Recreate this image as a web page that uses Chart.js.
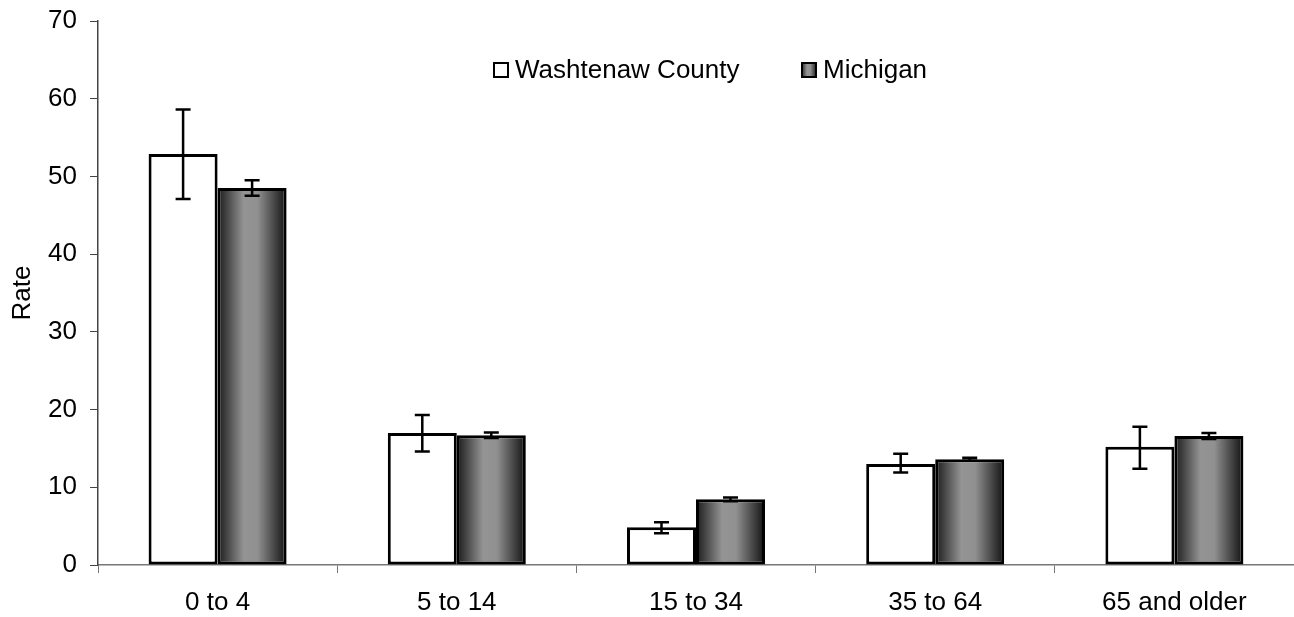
<!DOCTYPE html>
<html>
<head>
<meta charset="utf-8">
<script src="https://cdn.jsdelivr.net/npm/chart.js@4/dist/chart.umd.min.js"></script>
<style>
  html, body { margin: 0; padding: 0; background: #fff; }
  #wrap { width: 1294px; height: 617px; }
</style>
</head>
<body>
<div id="wrap"><canvas id="c" width="1294" height="617"></canvas></div>
<script>
const categories = ['0 to 4', '5 to 14', '15 to 34', '35 to 64', '65 and older'];
const washtenaw = [52.9, 17.0, 4.85, 13.0, 15.2];
const washtenawLow = [47.1, 14.6, 4.1, 11.9, 12.4];
const washtenawHigh = [58.6, 19.3, 5.5, 14.3, 17.8];
const michigan = [48.5, 16.7, 8.45, 13.6, 16.6];
const michiganLow = [47.5, 16.35, 8.2, 13.4, 16.2];
const michiganHigh = [49.5, 17.05, 8.7, 13.8, 17.0];
const yTickValues = [0, 10, 20, 30, 40, 50, 60, 70];

const FONT = "'Liberation Sans', Arial, sans-serif";
const CAT_PCT = 0.577;

function grayGradient(c, left, right) {
  const g = c.createLinearGradient(left, 0, right, 0);
  g.addColorStop(0, '#1a1a1a');
  g.addColorStop(0.38, '#949494');
  g.addColorStop(0.58, '#909090');
  g.addColorStop(1, '#111111');
  return g;
}

const michiganFill = (ctx) => {
  const chart = ctx.chart;
  if (!chart.chartArea || ctx.type !== 'data') return '#888';
  const xs = chart.scales.x;
  const center = xs.getPixelForValue(ctx.dataIndex);
  const bw = (xs.width / categories.length) * CAT_PCT / 2;
  return grayGradient(chart.ctx, center, center + bw);
};

const errorBars = {
  id: 'errorBars',
  afterDatasetsDraw(chart) {
    const c = chart.ctx;
    const ys = chart.scales.y;
    c.save();
    c.strokeStyle = '#000';
    c.lineWidth = 2.5;
    chart.data.datasets.forEach((ds, di) => {
      const meta = chart.getDatasetMeta(di);
      meta.data.forEach((el, i) => {
        const x = el.x;
        const yH = ys.getPixelForValue(ds.errHigh[i]);
        const yL = ys.getPixelForValue(ds.errLow[i]);
        const cap = 7.5;
        c.beginPath();
        c.moveTo(x, yH); c.lineTo(x, yL);
        c.moveTo(x - cap, yH); c.lineTo(x + cap, yH);
        c.moveTo(x - cap, yL); c.lineTo(x + cap, yL);
        c.stroke();
      });
    });
    c.restore();
  }
};

const customLegend = {
  id: 'customLegend',
  afterDraw(chart) {
    const c = chart.ctx;
    const items = [
      { ds: chart.data.datasets[0], x: 493 },
      { ds: chart.data.datasets[1], x: 801 }
    ];
    const y = 62, s = 16;
    c.save();
    c.font = '26px ' + FONT;
    c.textBaseline = 'alphabetic';
    items.forEach((it, k) => {
      c.fillStyle = k === 1 ? grayGradient(c, it.x, it.x + s) : '#fff';
      c.fillRect(it.x, y, s, s);
      c.strokeStyle = '#000';
      c.lineWidth = 2;
      c.strokeRect(it.x + 1, y + 1, s - 2, s - 2);
      c.fillStyle = '#000';
      c.fillText(it.ds.label, it.x + 22, y + 15.5);
    });
    c.restore();
  }
};

Chart.defaults.font.family = FONT;
Chart.defaults.font.size = 26;
Chart.defaults.color = '#000';

new Chart(document.getElementById('c'), {
  type: 'bar',
  data: {
    labels: categories,
    datasets: [
      {
        label: 'Washtenaw County',
        data: washtenaw,
        errLow: washtenawLow,
        errHigh: washtenawHigh,
        backgroundColor: '#ffffff',
        borderColor: '#000',
        borderWidth: 3,
        borderSkipped: false,
        categoryPercentage: CAT_PCT,
        barPercentage: 1.0
      },
      {
        label: 'Michigan',
        data: michigan,
        errLow: michiganLow,
        errHigh: michiganHigh,
        backgroundColor: michiganFill,
        borderColor: '#000',
        borderWidth: 3,
        borderSkipped: false,
        categoryPercentage: CAT_PCT,
        barPercentage: 1.0
      }
    ]
  },
  options: {
    responsive: false,
    animation: false,
    layout: { padding: { top: 21, right: 0, left: 0, bottom: 0 } },
    plugins: {
      legend: { display: false },
      tooltip: { enabled: false }
    },
    scales: {
      x: {
        offset: true,
        grid: {
          offset: true,
          drawOnChartArea: false,
          drawTicks: true,
          tickLength: 8,
          color: '#777',
          lineWidth: 1
        },
        border: { display: true, color: '#777', width: 1.5 },
        ticks: { padding: 14, font: { size: 26 }, color: '#000', maxRotation: 0 },
        afterFit(scale) { scale.height = 52; scale.paddingLeft = 0; scale.paddingRight = 0; }
      },
      y: {
        min: 0,
        max: 70,
        afterBuildTicks(scale) { scale.ticks = yTickValues.map(v => ({ value: v })); },
        grid: {
          drawOnChartArea: false,
          drawTicks: true,
          tickLength: 8,
          color: '#444',
          lineWidth: 1
        },
        border: { display: true, color: '#444', width: 1.5 },
        ticks: { padding: 13, font: { size: 26 }, color: '#000' },
        title: {
          display: true,
          text: 'Rate',
          font: { size: 26 },
          color: '#000',
          padding: { top: 7, bottom: 4 }
        },
        afterFit(scale) { scale.width = 98; scale.paddingTop = 0; scale.paddingBottom = 0; }
      }
    }
  },
  plugins: [errorBars, customLegend]
});
</script>
</body>
</html>
